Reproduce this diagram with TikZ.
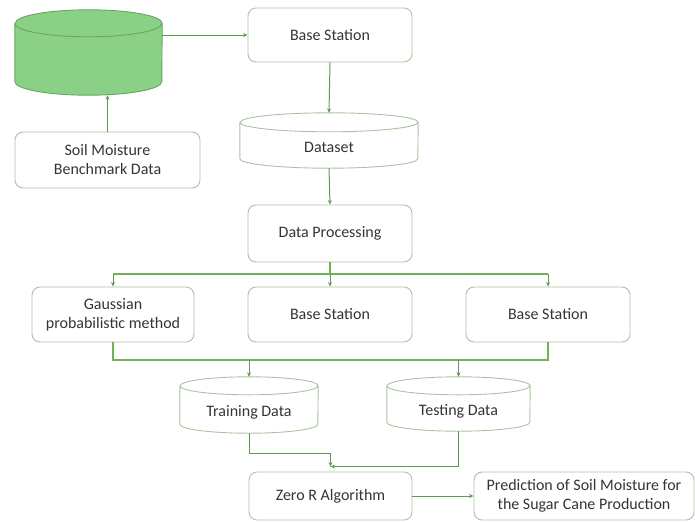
\documentclass[tikz,border=0pt]{standalone}
\usepackage{fontspec}
\setmainfont{Carlito}
\usetikzlibrary{arrows.meta}
\definecolor{linegreen}{RGB}{98,152,86}
\definecolor{wiregreen}{RGB}{112,178,92}
\definecolor{boxline}{RGB}{168,196,160}
\definecolor{canfill}{RGB}{138,208,134}
\definecolor{candark}{RGB}{104,166,96}
\definecolor{txtgray}{RGB}{52,52,52}

% cylinder outline round a named node: node, half width, end radius
\newcommand{\drum}[4][draw=boxline]{%
	\path[#1, line width=0.9pt] ([yshift=-#4pt]#2.north west) -- ([yshift=#4pt]#2.south west)
		arc[start angle=180, end angle=360, x radius=#3pt, y radius=#4pt]
		-- ([yshift=-#4pt]#2.north east)
		arc[start angle=0, end angle=180, x radius=#3pt, y radius=#4pt] -- cycle
		([yshift=-#4pt]#2.north west) arc[start angle=180, end angle=360, x radius=#3pt, y radius=#4pt];
}
\newcommand{\low}[1]{\raisebox{-7pt}[\height][\depth]{#1}}

\begin{document}
\begin{tikzpicture}[x=1pt,y=-1pt,
	box/.style={draw=boxline, line width=0.9pt, rounded corners=8pt, align=center,
		text=txtgray, font=\fontsize{16}{19}\selectfont, inner sep=0pt},
	drumnode/.style={inner sep=0pt, text=txtgray, font=\fontsize{16}{19}\selectfont},
	link/.style={draw=linegreen, line width=1pt, -{Stealth[length=4.5pt,width=4pt]}},
	wire/.style={draw=wiregreen, line width=1.5pt}]
	\useasboundingbox (0,0) rectangle (695,522);

	\node[drumnode, minimum width=147pt, minimum height=85pt] (bench) at (88.5,52.5) {};
	\node[box, minimum width=164pt, minimum height=54pt] (base) at (330,35) {Base Station};
	\node[box, minimum width=185pt, minimum height=56pt] (soil) at (107.5,160) {Soil Moisture\\Benchmark Data};
	\node[drumnode, minimum width=178pt, minimum height=55pt] (dataset) at (329,140.5) {\low{Dataset}};
	\node[box, minimum width=164pt, minimum height=57pt] (proc) at (330,233.5) {Data Processing};

	\node[box, minimum width=162pt, minimum height=55pt] (gauss) at (113,314.5) {Gaussian\\probabilistic method};
	\node[box, minimum width=164pt, minimum height=55pt] (midbase) at (330,314.5) {Base Station};
	\node[box, minimum width=164pt, minimum height=55pt] (rightbase) at (548,314.5) {Base Station};

	\node[drumnode, minimum width=138pt, minimum height=56pt] (train) at (249,405) {\low{Training Data}};
	\node[drumnode, minimum width=143pt, minimum height=54pt] (test) at (458.5,404) {\low{Testing Data}};

	\node[box, minimum width=163pt, minimum height=48pt] (zero) at (330.5,496) {Zero R Algorithm};
	\node[box, minimum width=220pt, minimum height=48pt] (pred) at (584,496) {Prediction of Soil Moisture for\\the Sugar Cane Production};

	% cylinders
	\drum[draw=candark, fill=canfill]{bench}{73.5}{13.5}
	\drum{dataset}{89}{9.5}
	\drum{train}{69}{9}
	\drum{test}{71.5}{9}

	\coordinate (split) at (330,274);
	\coordinate (join) at (330,360);
	\coordinate (meet) at ([yshift=5pt]zero.north);

	% top part
	\draw[link] (bench.east |- base.west) -- (base.west);
	\draw[link] (soil.north) -- (soil.north |- bench.south);
	\draw[link] (base.south) -- (dataset.north);
	\draw[link] (dataset.south) -- (proc.north);

	% three branches
	\draw[wire] (proc.south) -- (split);
	\draw[wire] (gauss.north |- split) -- (rightbase.north |- split);
	\draw[link] (gauss.north |- split) -- (gauss.north);
	\draw[link] (split) -- (midbase.north);
	\draw[link] (rightbase.north |- split) -- (rightbase.north);
	\draw[wire] (gauss.south) |- (join) -| (rightbase.south);
	\draw[link] (train.north |- join) -- (train.north);
	\draw[link] (test.north |- join) -- (test.north);

	% model
	\draw[link] (train.south) -- ++(0,20) -| (meet);
	\draw[link] (test.south) |- (meet);
	\draw[link] (zero.east) -- (pred.west);
\end{tikzpicture}
\end{document}
